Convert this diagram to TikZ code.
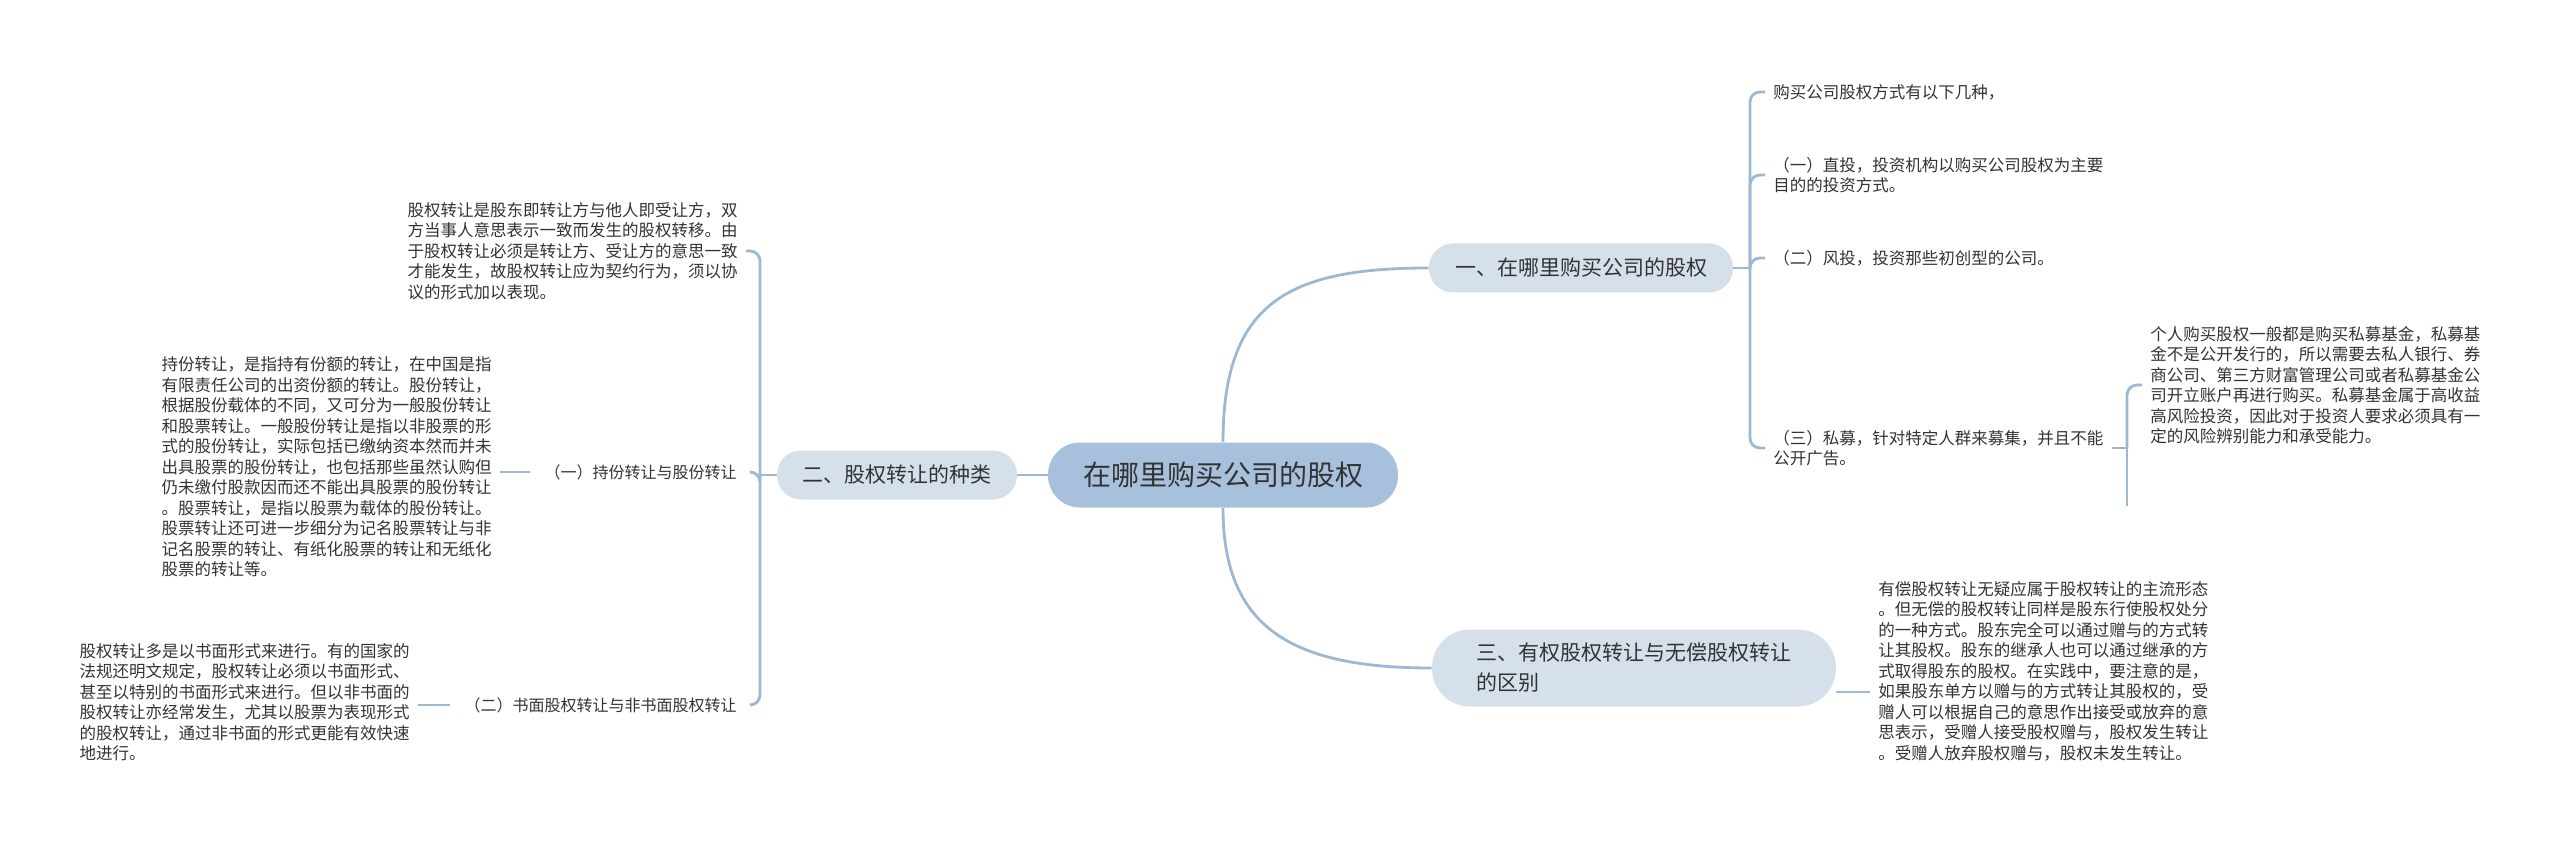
\documentclass[tikz,border=0pt]{standalone}
\usepackage{fontspec}
\setmainfont{Noto Sans CJK SC}
\definecolor{rootfill}{HTML}{A7C1DC}
\definecolor{subfill}{HTML}{D5E0EA}
\definecolor{linkblue}{HTML}{9DB8D2}
\definecolor{ink}{HTML}{333333}
\tikzset{
  link/.style={draw=linkblue, line width=1.4pt, rounded corners=5pt},
  rootnode/.style={fill=rootfill, rounded corners=16pt, minimum width=175pt, minimum height=32.5pt, font=\fontsize{14}{16}\selectfont, text=ink},
  subnode/.style={fill=subfill, rounded corners=12pt, minimum height=24.5pt, font=\fontsize{10.5}{15}\selectfont, text=ink},
  leaf/.style={font=\fontsize{8.25}{10.25}\selectfont, text=ink, align=left, inner sep=4pt},
  midtext/.style={font=\fontsize{8}{10}\selectfont, text=ink, inner xsep=7pt}
}

\begin{document}
\begin{tikzpicture}[x=0.5pt,y=-0.5pt]
    \useasboundingbox (0,0) rectangle (2560,845);
    % centre and first level
    \node[rootnode](root)at(1223,475){在哪里购买公司的股权};
    \node[subnode,minimum width=152pt](bA)at(1581,268){一、在哪里购买公司的股权};
    \node[subnode,minimum width=120pt](bB)at(897,475){二、股权转让的种类};
    \node[subnode,minimum width=202pt,minimum height=38.5pt,rounded corners=19pt,align=left](bC)at(1634,668){三、有权股权转让与无偿股权转让\\的区别};
        \draw[link](root.west)--(bB.east);
        \draw[link](root.north)..controls +(0,-140) and +(-140,0)..(bA.west);
        \draw[link](root.south)..controls +(0,120) and +(-140,0)..(bC.west);
    % left side
    \coordinate(b2)at(760,475);
    \node[leaf,anchor=east](t21)at(746,251){股权转让是股东即转让方与他人即受让方，双\\方当事人意思表示一致而发生的股权转移。由\\于股权转让必须是转让方、受让方的意思一致\\才能发生，故股权转让应为契约行为，须以协\\议的形式加以表现。};
    \node[midtext,anchor=east](m21)at(751,472){（一）持份转让与股份转让};
    \node[midtext,anchor=east](m22)at(751,705){（二）书面股权转让与非书面股权转让};
    \node[leaf,anchor=east](t22)at(500,467){持份转让，是指持有份额的转让，在中国是指\\有限责任公司的出资份额的转让。股份转让，\\根据股份载体的不同，又可分为一般股份转让\\和股票转让。一般股份转让是指以非股票的形\\式的股份转让，实际包括已缴纳资本然而并未\\出具股票的股份转让，也包括那些虽然认购但\\仍未缴付股款因而还不能出具股票的股份转让\\。股票转让，是指以股票为载体的股份转让。\\股票转让还可进一步细分为记名股票转让与非\\记名股票的转让、有纸化股票的转让和无纸化\\股票的转让等。};
    \node[leaf,anchor=east](t23)at(418,702){股权转让多是以书面形式来进行。有的国家的\\法规还明文规定，股权转让必须以书面形式、\\甚至以特别的书面形式来进行。但以非书面的\\股权转让亦经常发生，尤其以股票为表现形式\\的股权转让，通过非书面的形式更能有效快速\\地进行。};
        \draw[link](bB.west)--(b2);
        \draw[link](b2)|-(t21.east);
        \draw[link](b2)|-(m21.east);
        \draw[link](b2)|-(m22.east);
        \draw[link](m21.west)--(t22.east |- m21.west);
        \draw[link](m22.west)--(t23.east |- m22.west);
    % right side, first branch
    \coordinate(b1)at(1750,268);
    \node[leaf,anchor=west](t11)at(1765,92){购买公司股权方式有以下几种，};
    \node[leaf,anchor=west](t12)at(1765,175){（一）直投，投资机构以购买公司股权为主要\\目的的投资方式。};
    \node[leaf,anchor=west](t13)at(1765,258){（二）风投，投资那些初创型的公司。};
    \node[leaf,anchor=west](t14)at(1765,448){（三）私募，针对特定人群来募集，并且不能\\公开广告。};
        \draw[link](bA.east)--(b1);
        \draw[link](b1)|-(t11.west);
        \draw[link](b1)|-(t12.west);
        \draw[link](b1)|-(t13.west);
        \draw[link](b1)|-(t14.west);
    \coordinate(b3)at(2127,448);
    \coordinate(b3end)at(2127,506);
    \node[leaf,anchor=west](t15)at(2142,385){个人购买股权一般都是购买私募基金，私募基\\金不是公开发行的，所以需要去私人银行、券\\商公司、第三方财富管理公司或者私募基金公\\司开立账户再进行购买。私募基金属于高收益\\高风险投资，因此对于投资人要求必须具有一\\定的风险辨别能力和承受能力。};
        \draw[link](t14.east)--(b3);
        \draw[link](b3)|-(t15.west);
        \draw[link](b3)--(b3end);
    % right side, third branch
    \coordinate(j3)at(1870,692);
    \node[leaf,anchor=west](t31)at(1870,671){有偿股权转让无疑应属于股权转让的主流形态\\。但无偿的股权转让同样是股东行使股权处分\\的一种方式。股东完全可以通过赠与的方式转\\让其股权。股东的继承人也可以通过继承的方\\式取得股东的股权。在实践中，要注意的是，\\如果股东单方以赠与的方式转让其股权的，受\\赠人可以根据自己的意思作出接受或放弃的意\\思表示，受赠人接受股权赠与，股权发生转让\\。受赠人放弃股权赠与，股权未发生转让。};
        \draw[link](bC.east |- j3)--(j3);
\end{tikzpicture}
\end{document}
